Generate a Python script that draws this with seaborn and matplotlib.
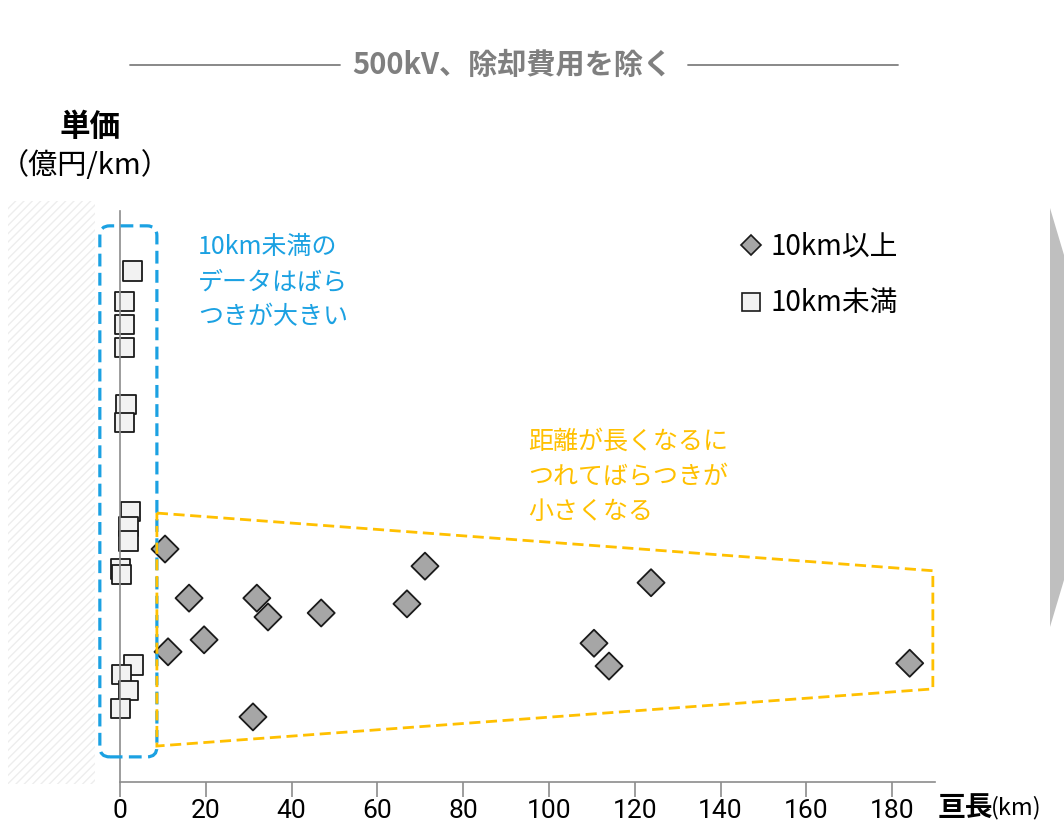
import numpy as np
import pandas as pd
import matplotlib
matplotlib.use("Agg")
import matplotlib.pyplot as plt
import matplotlib.transforms as mtransforms
from matplotlib.patches import FancyBboxPatch, Polygon, Rectangle
from matplotlib.lines import Line2D
import seaborn as sns

sns.set_theme(style="white")
plt.rcParams['font.family'] = ['Noto Sans CJK JP', 'DejaVu Sans']
plt.rcParams['hatch.linewidth'] = 1.0

# 10km以上
long_km = [10.5, 16.1, 11.2, 19.6, 31.9, 34.5, 31.0, 46.9, 66.9, 71.1, 110.5, 114.0, 123.8, 184.1]
long_cost = [4.08, 3.22, 2.28, 2.49, 3.22, 2.89, 1.14, 2.96, 3.12, 3.78, 2.43, 2.03, 3.49, 2.08]
# 10km未満
short_km = [3.0, 1.0, 1.0, 1.0, 1.4, 1.0, 2.5, 2.0, 2.0, 0.2, 0.4, 3.2, 0.3, 1.9, 0.2]
short_cost = [8.95, 8.42, 8.01, 7.61, 6.61, 6.29, 4.74, 4.47, 4.22, 3.73, 3.64, 2.05, 1.88, 1.60, 1.28]

groups = ["10km以上", "10km未満"]
x_ticks = [0, 20, 40, 60, 80, 100, 120, 140, 160, 180]

df = pd.DataFrame({
    "km": long_km + short_km,
    "cost": long_cost + short_cost,
    "group": [groups[0]] * len(long_km) + [groups[1]] * len(short_km),
})

W, H = 1064, 825
fig = plt.figure(figsize=(W / 100, H / 100), dpi=100)
ax = fig.add_axes([120 / W, 43 / H, 815 / W, 571 / H])
# pixel transform (origin top-left)
px = mtransforms.Affine2D().scale(1 / W, -1 / H).translate(0, 1) + fig.transFigure

sns.scatterplot(data=df, x="km", y="cost", hue="group", style="group",
                markers={groups[0]: "D", groups[1]: "s"},
                palette={groups[0]: "#a6a6a6", groups[1]: "#f2f2f2"},
                s=190, edgecolor="#1a1a1a", linewidth=1.3, legend=False, ax=ax)
for coll in ax.collections:
    coll.set_clip_on(False)

ax.set_xlim(0, 190)
ax.set_ylim(0, 10)
ax.set_xticks(x_ticks)
ax.set_yticks([])
ax.set_xlabel("")
ax.set_ylabel("")
for s in ["top", "right"]:
    ax.spines[s].set_visible(False)
for s in ["left", "bottom"]:
    ax.spines[s].set_color("#8c8c8c")
    ax.spines[s].set_linewidth(1.2)
ax.tick_params(axis="x", direction="out", length=11, width=1.2, color="#8c8c8c",
               labelsize=19, pad=1, labelcolor="#000000", bottom=True)
for lab in ax.get_xticklabels():
    lab.set_family(['Liberation Sans Narrow', 'Roboto', 'DejaVu Sans'])

# blue dashed rounded box
blue = "#1ba1e2"
box = FancyBboxPatch((-4.7, 0.44), 13.3, 9.3,
                     boxstyle="round,pad=0,rounding_size=2.3", mutation_aspect=0.075,
                     fill=False, edgecolor=blue, linewidth=2.3, linestyle=(0, (4, 2)),
                     clip_on=False, zorder=3)
ax.add_patch(box)

# yellow dashed trapezoid
yellow = "#ffc000"
trap = Polygon([(8.6, 4.71), (189.5, 3.70), (189.5, 1.63), (8.6, 0.63)], closed=True,
               fill=False, edgecolor=yellow, linewidth=2.0, linestyle=(0, (4, 2)),
               clip_on=False, zorder=3)
ax.add_patch(trap)

# hatched area on the left
fig.patches.append(Rectangle((8, 201), 87, 583, transform=px, facecolor="none",
                             edgecolor="#ededed", hatch="////", linewidth=0))
# grey chevron on the right edge
fig.patches.append(Polygon([(1050, 208), (1064, 255), (1064, 580), (1050, 627)],
                           closed=True, transform=px, facecolor="#bfbfbf", edgecolor="none"))

# title with side rules
fig.text(512 / W, 1 - 65 / H, "500kV、除却費用を除く", ha="center", va="center",
         fontsize=21, fontweight="bold", color="#7f7f7f")
fig.lines.append(Line2D([130, 340], [65, 65], transform=px, color="#7f7f7f", linewidth=1.3))
fig.lines.append(Line2D([688, 898], [65, 65], transform=px, color="#7f7f7f", linewidth=1.3))

# y label
fig.text(90 / W, 1 - 127 / H, "単価", ha="center", va="center", fontsize=22, fontweight="bold",
         color="black")
fig.text(85 / W, 1 - 166 / H, "（億円/km）", ha="center", va="center", fontsize=21, color="black")
# x label
fig.text(938 / W, 1 - 808 / H, "亘長", ha="left", va="center", fontsize=20, fontweight="bold",
         color="black")
fig.text(991 / W, 1 - 808 / H, "(km)", ha="left", va="center", fontsize=17, color="black")

# annotations
fig.text(198 / W, 1 - 282 / H, "10km未満の\nデータはばら\nつきが大きい", ha="left", va="center",
         fontsize=18, color=blue, linespacing=1.45)
fig.text(528 / W, 1 - 477 / H, "距離が長くなるに\nつれてばらつきが\n小さくなる", ha="left", va="center",
         fontsize=18, color=yellow, linespacing=1.45)

# legend
handles = [
    Line2D([], [], marker="D", linestyle="none", markersize=10, markerfacecolor="#a6a6a6",
           markeredgecolor="#1a1a1a", markeredgewidth=1.2),
    Line2D([], [], marker="s", linestyle="none", markersize=13, markerfacecolor="#f2f2f2",
           markeredgecolor="#1a1a1a", markeredgewidth=1.2),
]
leg = fig.legend(handles, groups, loc="upper left", bbox_to_anchor=(726 / W, 1 - 218 / H),
                 frameon=False, fontsize=20, labelspacing=0.95, handlelength=0.8,
                 handletextpad=0.3, borderpad=0)
for t in leg.get_texts():
    t.set_color("black")

fig.savefig("out.png", dpi=100)
